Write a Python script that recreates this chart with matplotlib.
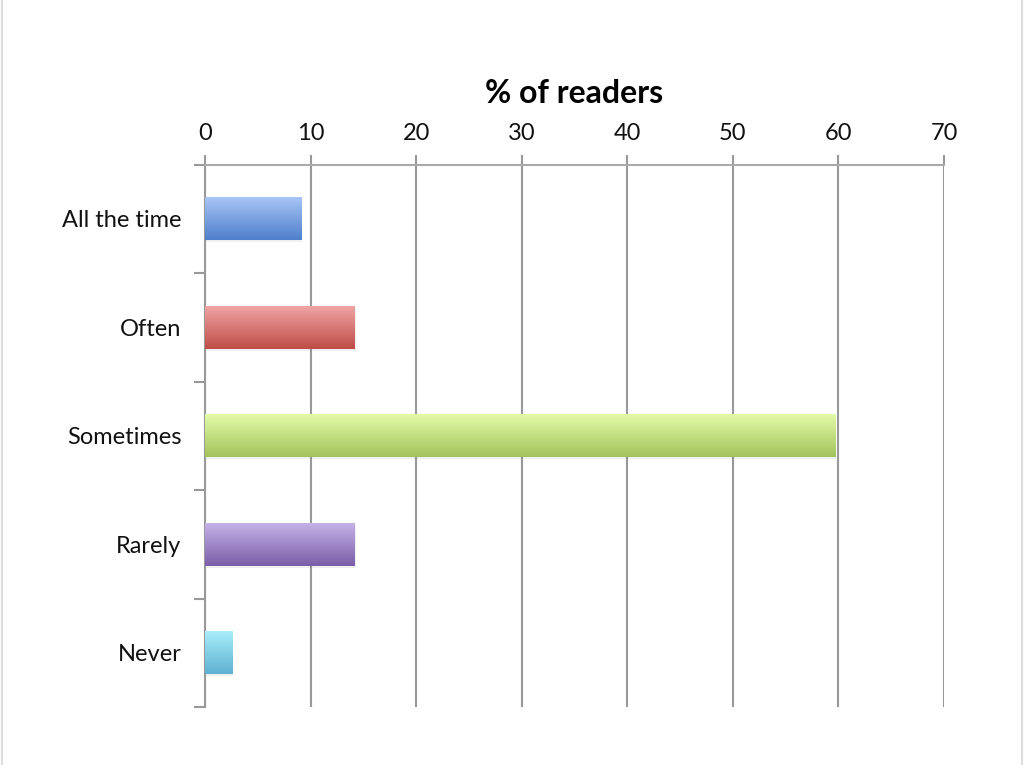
import numpy as np
import matplotlib.pyplot as plt
from matplotlib.colors import LinearSegmentedColormap
from matplotlib.patches import Rectangle
from matplotlib.lines import Line2D

plt.rcParams['font.family'] = ['Lato', 'DejaVu Sans']

# Survey answers, top to bottom
categories = ['All the time', 'Often', 'Sometimes', 'Rarely', 'Never']
percent = [9.1, 14.2, 59.7, 14.2, 2.6]

# gradient colours (top of bar, bottom of bar)
top_colors = ['#a9c6f7', '#f0a7a5', '#e4fbaa', '#c6b4e8', '#aaeefb']
bottom_colors = ['#4f7fcb', '#bf4c48', '#a2c35c', '#7a5ea8', '#5eb1d0']

x_ticks = [0, 10, 20, 30, 40, 50, 60, 70]

fig = plt.figure(figsize=(10.24, 7.65), dpi=100)
ax = fig.add_axes([205 / 1024, 1 - 707 / 765, (944 - 205) / 1024, (707 - 164.5) / 765])

n = len(categories)
bar_h = 0.4

for i, (val, c_top, c_bot) in enumerate(zip(percent, top_colors, bottom_colors)):
    y0 = i + 0.5 - bar_h / 2
    # faint shadow
    shadow = Rectangle((0.06, y0 + 0.015), val, bar_h, facecolor='#000000',
                       alpha=0.06, edgecolor='none', zorder=2)
    ax.add_patch(shadow)
    cmap = LinearSegmentedColormap.from_list('g%d' % i, [c_top, c_bot])
    grad = np.linspace(0, 1, 100).reshape(-1, 1)
    im = ax.imshow(grad, cmap=cmap, aspect='auto',
                   extent=(0, val, y0 + bar_h, y0), zorder=3, interpolation='bilinear')
    rect = Rectangle((0, y0), val, bar_h, facecolor='none', edgecolor='none', zorder=3)
    ax.add_patch(rect)
    im.set_clip_path(rect)

ax.set_xlim(0, 70)
ax.set_ylim(n, 0)

# axis at the top
ax.xaxis.tick_top()
ax.xaxis.set_label_position('top')
ax.set_xticks(x_ticks)
ax.set_xticklabels([str(t) for t in x_ticks], fontsize=17, color='#111111')
ax.tick_params(axis='x', length=7, width=1.5, color='#999999', pad=8)
ax.set_xlabel('% of readers', fontsize=23, fontweight='bold', labelpad=14)

ax.set_yticks(np.arange(n + 1))
ax.set_yticklabels([])
ax.set_yticks(np.arange(n) + 0.5, minor=True)
ax.set_yticklabels(categories, minor=True, fontsize=17, color='#111111')
ax.tick_params(axis='y', which='major', length=8, width=1.5, color='#999999')
ax.tick_params(axis='y', which='minor', length=0, pad=17)

ax.grid(axis='x', color='#999999', linewidth=1.5, zorder=1)
ax.set_axisbelow(True)
for side in ['right', 'bottom']:
    ax.spines[side].set_visible(False)
ax.spines['top'].set_color('#aaaaaa')
ax.spines['top'].set_linewidth(1.5)
ax.spines['left'].set_color('#999999')
ax.spines['left'].set_linewidth(1.5)

# faint frame on the image edges
fig.add_artist(Line2D([0.0015, 0.0015], [0, 1], color='#dddddd', linewidth=1.5))
fig.add_artist(Line2D([0.9985, 0.9985], [0, 1], color='#dddddd', linewidth=1.5))

fig.savefig('out.png', dpi=100)
